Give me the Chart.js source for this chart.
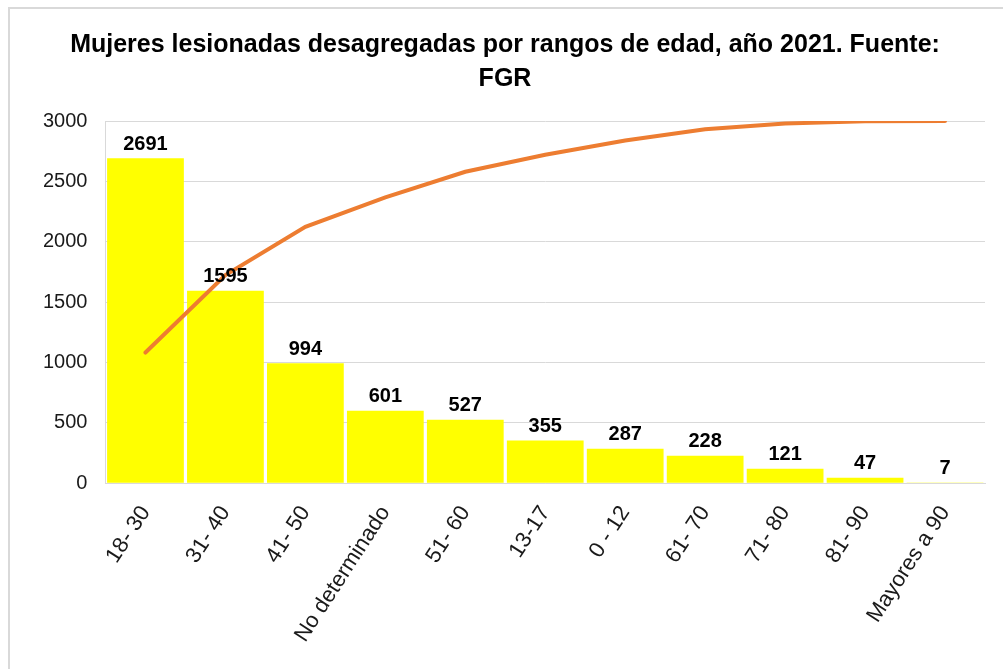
<!DOCTYPE html>
<html>
<head>
<meta charset="utf-8">
<script src="https://cdn.jsdelivr.net/npm/chart.js@4/dist/chart.umd.min.js"></script>
<style>
  html, body { margin: 0; padding: 0; background: #fff; }
  #frame { position: absolute; left: 8px; top: 7px; width: 1100px; height: 800px;
           border-left: 2px solid #d9d9d9; border-top: 2px solid #d9d9d9; }
  #paretoChart { position: absolute; left: 0; top: 0; }
</style>
</head>
<body>
<div id="frame"></div>
<canvas id="paretoChart" width="1003" height="669"></canvas>
<script>
var rangos = ['18- 30', '31- 40', '41- 50', 'No determinado', '51- 60', '13-17',
              '0 - 12', '61- 70', '71- 80', '81- 90', 'Mayores a 90'];
var lesionadas = [2691, 1595, 994, 601, 527, 355, 287, 228, 121, 47, 7];
// cumulative share (%)
var acumulado = [36.1, 57.5, 70.8, 78.9, 86.0, 90.7, 94.6, 97.7, 99.3, 99.9, 100];
var yTicks = [0, 500, 1000, 1500, 2000, 2500, 3000];

var FONT = "'Liberation Sans', Arial, sans-serif";

// draws the value above each bar
var barLabels = {
    id: 'barLabels',
    afterDatasetsDraw: function(chart) {
        var ctx = chart.ctx;
        var meta = chart.getDatasetMeta(1);
        ctx.save();
        ctx.font = 'bold 20px ' + FONT;
        ctx.fillStyle = '#000';
        ctx.textAlign = 'center';
        ctx.textBaseline = 'bottom';
        meta.data.forEach(function(bar, i) {
            ctx.fillText(lesionadas[i], bar.x, bar.y - 4);
        });
        ctx.restore();
    }
};

var ctx = document.getElementById('paretoChart').getContext('2d');
var paretoChart = new Chart(ctx, {
    data: {
        labels: rangos,
        datasets: [{
            type: 'line',
            label: 'Acumulado',
            data: acumulado,
            yAxisID: 'y2',
            borderColor: '#ED7D31',
            borderWidth: 4,
            pointRadius: 0,
            tension: 0,
            borderCapStyle: 'round',
            order: 0
        }, {
            type: 'bar',
            label: 'Mujeres lesionadas',
            data: lesionadas,
            yAxisID: 'y',
            backgroundColor: '#FFFF00',
            barPercentage: 0.96,
            categoryPercentage: 1.0,
            order: 1
        }]
    },
    options: {
        responsive: false,
        animation: false,
        layout: { padding: { left: 25, right: 18, top: 28, bottom: 4 } },
        plugins: {
            legend: { display: false },
            tooltip: { enabled: false },
            title: {
                display: true,
                text: ['Mujeres lesionadas desagregadas por rangos de edad, año 2021. Fuente:', 'FGR'],
                color: '#000',
                font: { family: FONT, size: 25, weight: 'bold', lineHeight: 1.36 },
                padding: { top: 0, bottom: 25 }
            }
        },
        scales: {
            x: {
                grid: { display: false, drawTicks: false },
                border: { display: true, color: '#d9d9d9', width: 1 },
                afterFit: function(axis) {
                    axis.paddingLeft = 0;
                    axis.paddingRight = 0;
                },
                ticks: {
                    color: '#1a1a1a',
                    font: { family: FONT, size: 22 },
                    minRotation: 57,
                    maxRotation: 57,
                    padding: 18
                }
            },
            y: {
                min: 0,
                max: 3000,
                afterBuildTicks: function(axis) {
                    axis.ticks = yTicks.map(function(v) { return { value: v }; });
                },
                grid: { color: '#d9d9d9', drawTicks: false },
                border: { display: true, color: '#d9d9d9' },
                ticks: {
                    color: '#1a1a1a',
                    font: { family: FONT, size: 20 },
                    padding: 18,
                    callback: function(v) { return String(v); }
                }
            },
            y2: {
                display: false,
                min: 0,
                max: 100
            }
        }
    },
    plugins: [barLabels]
});
</script>
</body>
</html>
